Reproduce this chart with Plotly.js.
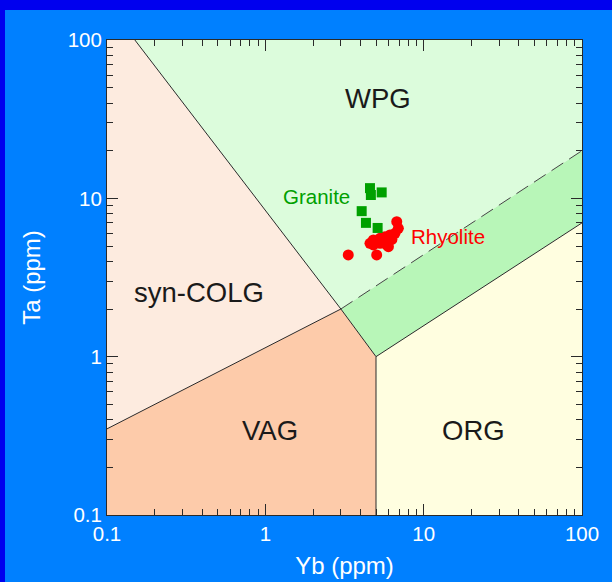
<!DOCTYPE html>
<html>
<head>
<meta charset="utf-8">
<script src="https://cdn.plot.ly/plotly-3.0.1.min.js"></script>
<style>
  html, body { margin: 0; padding: 0; background: #0000ee; width: 612px; height: 582px; overflow: hidden; }
  #chart { position: absolute; left: 5px; top: 10px; width: 607px; height: 572px; }
</style>
</head>
<body>
<div id="chart"></div>
<script>
// ---- Field boundaries (Yb, Ta in ppm) ----
const synColgX = [0.1, 0.15, 3, 0.1];
const synColgY = [100, 100, 2, 0.35];
const wpgX = [0.15, 100, 100, 3];
const wpgY = [100, 100, 20, 2];
const bandX = [3, 100, 100, 5];
const bandY = [2, 20, 7, 1];
const vagX = [0.1, 0.1, 3, 5, 5];
const vagY = [0.1, 0.35, 2, 1, 0.1];
const orgX = [5, 5, 100, 100];
const orgY = [0.1, 1, 7, 0.1];

const line1X = [0.15, 3];
const line1Y = [100, 2];
const line2X = [0.1, 3, 5, 100];
const line2Y = [0.35, 2, 1, 7];
const line3X = [5, 5];
const line3Y = [1, 0.1];
const dashX = [3, 100];
const dashY = [2, 20];

// ---- Samples ----
const graniteYb = [4.58, 4.64, 5.43, 4.06, 4.32, 5.12];
const graniteTa = [11.6, 10.5, 10.9, 8.3, 7.0, 6.5];
const rhyoliteYb = [3.34, 5.05, 6.76, 6.92, 6.59, 6.13, 5.70, 5.30, 4.81, 4.58, 4.81, 5.30, 5.84, 5.99, 6.30];
const rhyoliteTa = [4.39, 4.39, 7.12, 6.47, 6.01, 5.87, 5.72, 5.59, 5.46, 5.20, 5.08, 5.20, 5.08, 4.95, 5.50];

// ---- Labels ----
const fieldNames = ['WPG', 'syn-COLG', 'VAG', 'ORG'];
const fieldLabelX = [5.15, 0.38, 1.07, 20.5];
const fieldLabelY = [43, 2.56, 0.34, 0.34];

const FONT = 'Liberation Sans, Arial, sans-serif';
const edge = '#2a2a2a';
function region(x, y, color) {
  return { x: x, y: y, mode: 'lines', fill: 'toself', fillcolor: color,
           line: { width: 0, color: color }, hoverinfo: 'skip', showlegend: false };
}
function bline(x, y, dash, color) {
  return { x: x, y: y, mode: 'lines', line: { color: color || edge, width: 1, dash: dash || 'solid' },
           hoverinfo: 'skip', showlegend: false };
}

const traces = [
  region(synColgX, synColgY, '#fdebdf'),
  region(wpgX, wpgY, '#dcfcdc'),
  region(bandX, bandY, '#b8f6b8'),
  region(vagX, vagY, '#fdcbaa'),
  region(orgX, orgY, '#fffee0'),
  bline(line1X, line1Y),
  bline(line2X, line2Y),
  bline(line3X, line3Y),
  bline(dashX, dashY, '14px,7px', '#444444'),
  { x: rhyoliteYb, y: rhyoliteTa, mode: 'markers', name: 'Rhyolite',
    marker: { symbol: 'circle', size: 11, color: '#ff0000' }, showlegend: false },
  { x: graniteYb, y: graniteTa, mode: 'markers', name: 'Granite',
    marker: { symbol: 'square', size: 10, color: '#00a000' }, showlegend: false }
];

const annotations = fieldNames.map((t, i) => ({
  x: Math.log10(fieldLabelX[i]), y: Math.log10(fieldLabelY[i]), xref: 'x', yref: 'y',
  text: t, showarrow: false, font: { family: FONT, size: 27.5, color: '#1a1a1a' }
}));
annotations.push({ x: Math.log10(2.09), y: Math.log10(10.3), xref: 'x', yref: 'y', text: 'Granite',
  showarrow: false, font: { family: FONT, size: 20.5, color: '#00a000' } });
annotations.push({ x: Math.log10(14.3), y: Math.log10(5.78), xref: 'x', yref: 'y', text: 'Rhyolite',
  showarrow: false, font: { family: FONT, size: 20.5, color: '#ff0000' } });

const axisCommon = {
  type: 'log', dtick: 1, tick0: 0,
  showgrid: false, zeroline: false,
  showline: true, linecolor: edge, linewidth: 1, mirror: 'ticks',
  ticks: 'inside', ticklen: 11, tickwidth: 1, tickcolor: edge,
  minor: { ticks: 'inside', ticklen: 6, tickwidth: 1, tickcolor: edge, dtick: 'D1', showgrid: false },
  tickfont: { family: FONT, size: 20.5, color: '#ffffff' },
  fixedrange: true
};

const layout = {
  width: 607, height: 572,
  margin: { l: 102, r: 30, t: 30, b: 67 },
  paper_bgcolor: '#0080ff',
  plot_bgcolor: '#ffffff',
  showlegend: false,
  xaxis: Object.assign({}, axisCommon, {
    range: [-1, 2],
    title: { text: 'Yb (ppm)', font: { family: FONT, size: 24, color: '#ffffff' }, standoff: 13 }
  }),
  yaxis: Object.assign({}, axisCommon, {
    range: [-1, 2],
    title: { text: 'Ta (ppm)', font: { family: FONT, size: 24, color: '#ffffff' }, standoff: 20 }
  }),
  annotations: annotations
};

Plotly.newPlot('chart', traces, layout, { displayModeBar: false, staticPlot: true });
</script>
</body>
</html>
